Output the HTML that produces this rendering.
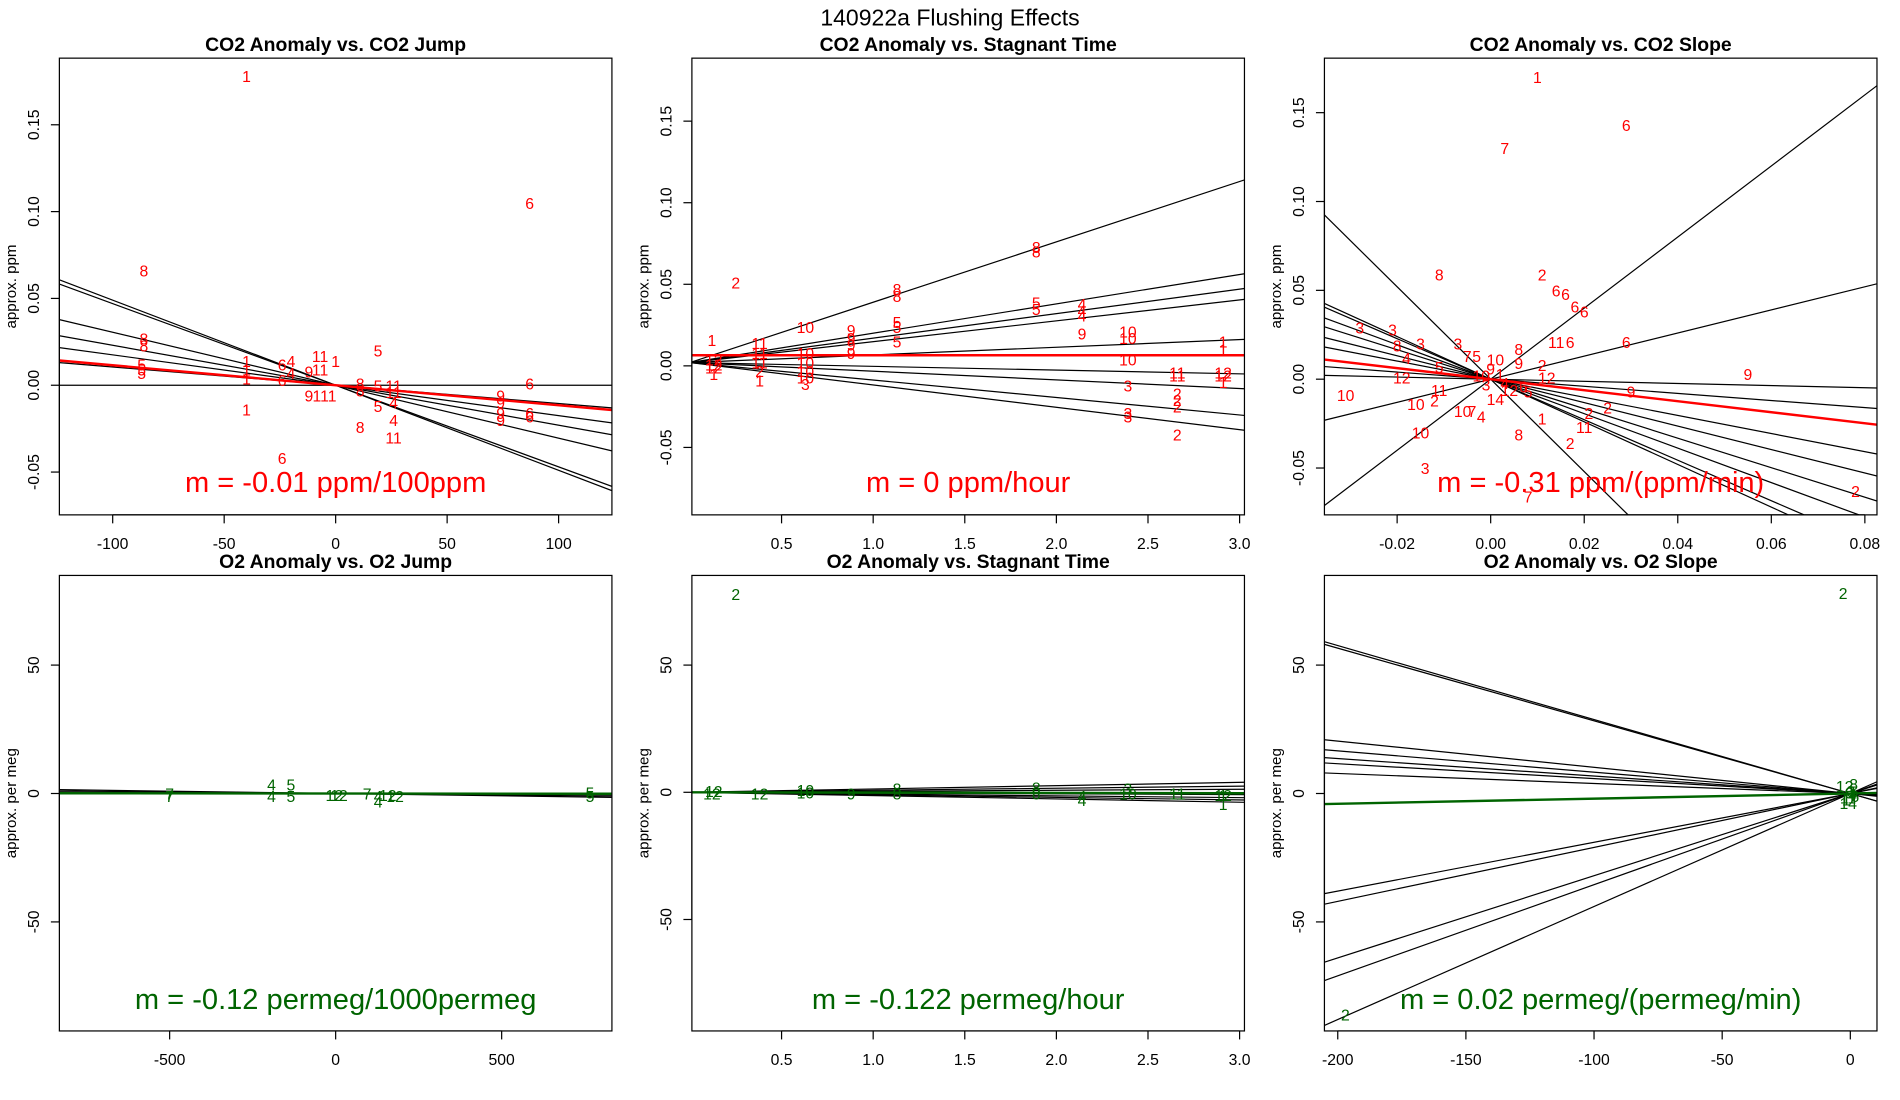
<!DOCTYPE html>
<html><head><meta charset="utf-8"><title>140922a Flushing Effects</title>
<style>html,body{margin:0;padding:0;background:#fff;width:1900px;height:1100px;overflow:hidden}svg{display:block}text{font-family:"Liberation Sans",sans-serif}</style>
</head><body>
<svg id="chart" xmlns="http://www.w3.org/2000/svg" width="1900" height="1100" viewBox="0 0 1568 908" preserveAspectRatio="none">
<rect x="0" y="0" width="1568" height="908" fill="#fff"/>
<text x="784" y="21" font-size="19" text-anchor="middle">140922a   Flushing Effects</text>
</svg>
<script>
// ---------- Panel 1: CO2 Anomaly vs CO2 Jump ----------
const p1Labels = ['1','6','8','8','8','5','5','5','1','1','1','6','6','4','4','9','11','11','1','5','8','8','5','5','11','11','4','4','11','9','111','9','9','9','9','6','6','6','8','1','6'];
const p1X = [-40,87,-86,-86,-86,-87,-87,-87,-40,-40,-40,-24,-24,-20,-20,-12,-7,-7,0,19,11,11,19,19,26,26,26,26,26,-12,-5,74,74,74,74,87,87,87,11,-40,-24];
const p1Y = [0.178,0.105,0.066,0.027,0.023,0.012,0.009,0.007,0.014,0.009,0.004,0.012,0.003,0.014,0.007,0.008,0.017,0.009,0.014,0.020,0.001,-0.003,0.000,-0.012,0.000,-0.004,-0.010,-0.020,-0.030,-0.006,-0.006,-0.006,-0.010,-0.016,-0.020,0.001,-0.016,-0.018,-0.024,-0.014,-0.042];
const p1Slopes = [-0.00049,-0.00047,-0.000305,-0.00023,-0.000175,-0.000105,0.0000];
const p1Red = -0.000115;
// ---------- Panel 2: CO2 Anomaly vs Stagnant Time ----------
const p2Labels = ['2','1','11','11','11','12','12','12','1','10','10','10','10','10','3','9','9','9','9','8','8','5','5','5','8','8','5','5','4','4','4','9','10','10','10','3','3','3','11','11','2','2','2','2','1','1','12','12','1','2','1'];
const p2X = [0.25,0.12,0.38,0.38,0.38,0.13,0.13,0.13,0.13,0.63,0.63,0.63,0.63,0.63,0.63,0.88,0.88,0.88,0.88,1.13,1.13,1.13,1.13,1.13,1.89,1.89,1.89,1.89,2.14,2.14,2.14,2.14,2.39,2.39,2.39,2.39,2.39,2.39,2.66,2.66,2.66,2.66,2.66,2.66,2.91,2.91,2.91,2.91,2.91,0.38,0.38];
const p2Y = [0.051,0.016,0.014,0.008,0.002,0.004,0.001,-0.001,-0.005,0.024,0.008,0.002,-0.003,-0.007,-0.011,0.022,0.017,0.013,0.008,0.047,0.043,0.027,0.024,0.015,0.073,0.070,0.039,0.035,0.038,0.034,0.031,0.020,0.021,0.017,0.004,-0.012,-0.029,-0.031,-0.004,-0.006,-0.017,-0.021,-0.025,-0.042,0.015,0.010,-0.004,-0.006,-0.010,-0.003,-0.009];
const p2Slopes = [0.037,0.018,0.015,0.0128,0.0047,-0.0023,-0.0053,-0.0107,-0.0137];
const p2Int = 0.002;
const p2Red = 0;
const p2RedInt = 0.0065;
// ---------- Panel 3: CO2 Anomaly vs CO2 Slope ----------
const p3Labels = ['1','6','7','8','2','6','6','6','6','11','6','6','9','3','3','3','3','8','4','5','10','12','10','10','2','11','10','7','4','8','3','2','11','2','2','1','9','7','2','8','10','5','7','9','1','12','4','6','2','5','14','10','9','3','12'];
const p3X = [0.010,0.029,0.003,-0.011,0.011,0.014,0.016,0.018,0.020,0.014,0.017,0.029,0.055,-0.028,-0.021,-0.015,-0.007,-0.020,-0.018,-0.011,-0.031,-0.019,-0.015,-0.016,-0.012,-0.011,-0.006,-0.004,-0.002,0.006,-0.014,0.017,0.020,0.025,0.021,0.011,0.030,0.008,0.078,0.006,0.001,-0.003,-0.005,0.000,0.002,0.004,0.003,0.007,0.011,0.008,0.001,-0.002,0.006,-0.001,0.012];
const p3Y = [0.170,0.143,0.130,0.059,0.059,0.050,0.048,0.041,0.038,0.021,0.021,0.021,0.003,0.029,0.028,0.020,0.020,0.019,0.012,0.007,-0.009,0.001,-0.030,-0.014,-0.012,-0.006,-0.018,-0.018,-0.021,-0.031,-0.050,-0.036,-0.027,-0.016,-0.019,-0.022,-0.007,-0.066,-0.063,0.017,0.011,0.013,0.013,0.006,0.003,-0.006,-0.002,-0.004,0.008,-0.007,-0.011,0.002,0.009,-0.003,0.001];
const p3Slopes = [2.0,0.65,-2.6,-1.2,-1.14,-0.97,-0.83,-0.66,-0.51,-0.2,-0.06];
const p3Red = -0.31;
// ---------- Panel 4: O2 Anomaly vs O2 Jump ----------
const p4Labels = ['7','7','4','4','5','5','12','12','7','4','4','12','12','5','5'];
const p4X = [-500,-500,-193,-193,-135,-135,-4,10,95,128,128,157,179,766,766];
const p4Y = [0,-1,3.5,-1,3.5,-1,-0.5,-0.5,0,-1,-3,-0.5,-1,0.5,-1];
const p4Slopes = [-0.0018,-0.0012,-0.0006,-0.0003];
const p4Green = -0.00012;
// ---------- Panel 5: O2 Anomaly vs Stagnant Time ----------
const p5Labels = ['2','12','12','12','10','10','9','8','8','8','8','4','4','3','10','11','12','1','1'];
const p5X = [0.25,0.12,0.13,0.38,0.63,0.63,0.88,1.13,1.13,1.89,1.89,2.14,2.14,2.39,2.39,2.66,2.91,2.91,2.91];
const p5Y = [78,-0.5,0.5,-0.5,0,1,-0.5,1.5,-0.5,2,-0.5,-1.5,-3,1.5,-0.5,-0.5,-1,-1,-4.5];
const p5Slopes = [1.3,0.8,0.4,-0.3,-0.7,-1.0,-1.3];
const p5Green = -0.122;
// ---------- Panel 6: O2 Anomaly vs O2 Slope ----------
const p6Labels = ['2','2','12','8','1','14','3','6','9','4','11','5'];
const p6X = [-2.8,-197,-2.2,1.3,-1.6,-0.8,0.2,1.8,-0.4,0.9,-0.9,1.4];
const p6Y = [78,-86,3,3.8,-2.3,-3.6,1,-1,0.5,-0.5,-1.5,0.8];
const p6Slopes = [-0.288,-0.283,-0.102,-0.083,-0.068,-0.058,-0.039,0.19,0.21,0.32,0.355,0.44];
const p6Green = 0.02;

const NS = 'http://www.w3.org/2000/svg';
const svg = document.getElementById('chart');
function mk(tag, attrs, parent) {
  const e = document.createElementNS(NS, tag);
  for (const k in attrs) e.setAttribute(k, attrs[k]);
  (parent || svg).appendChild(e);
  return e;
}

function panel(cfg) {
  const g = mk('g', {});
  
  
  const sx = v => cfg.px0 + (v - cfg.xa) * (cfg.px1 - cfg.px0) / (cfg.xb - cfg.xa);
  const sy = v => cfg.py0 + (v - cfg.ya) * (cfg.py1 - cfg.py0) / (cfg.yb - cfg.ya);
  const L = cfg.box[0], T = cfg.box[1], R = cfg.box[2], B = cfg.box[3];
  const cid = 'clip-' + cfg.name;
  const cp = mk('clipPath', { id: cid }, g);
  mk('rect', { x: L, y: T, width: R - L, height: B - T }, cp);
  const t = mk('text', { x: (L + R) / 2, y: T - 6, 'font-size': 16, 'font-weight': 'bold', 'text-anchor': 'middle' }, g);
  
  
  t.textContent = cfg.title;
  const yl = mk('text', { x: 0, y: 0, 'font-size': 12.5, 'text-anchor': 'middle', transform: `translate(${L - 36},${(T + B) / 2}) rotate(-90)` }, g);
  
  
  yl.textContent = cfg.ylab;
  const xt = mk('g', {}, g);
  
  
  const xs = cfg.xticks.map(sx);
  mk('line', { x1: xs[0], x2: xs[xs.length - 1], y1: B, y2: B, stroke: '#000', 'stroke-width': 1 }, xt);
  cfg.xticks.forEach((v, i) => {
    mk('line', { x1: xs[i], x2: xs[i], y1: B, y2: B + 7, stroke: '#000' }, xt);
    const tx = mk('text', { x: xs[i], y: B + 28, 'font-size': 13, 'text-anchor': 'middle' }, xt);
    
    
    tx.textContent = cfg.xtickLabels[i];
  });
  const yt = mk('g', {}, g);
  
  
  const ys = cfg.yticks.map(sy);
  mk('line', { x1: L, x2: L, y1: ys[0], y2: ys[ys.length - 1], stroke: '#000' }, yt);
  cfg.yticks.forEach((v, i) => {
    mk('line', { x1: L - 7, x2: L, y1: ys[i], y2: ys[i], stroke: '#000' }, yt);
    const ty = mk('text', { x: 0, y: 0, 'font-size': 13, 'text-anchor': 'middle', transform: `translate(${L - 17},${ys[i]}) rotate(-90)` }, yt);
    
    
    ty.textContent = cfg.ytickLabels[i];
  });
  // segment of y = b + m*x clipped to plot box, in pixel coords
  function seg(b, m) {
    const ax = L, bx2 = R;
    let p1 = [ax, 0], p2 = [bx2, 0];
    const inv = px => cfg.xa + (px - cfg.px0) * (cfg.xb - cfg.xa) / (cfg.px1 - cfg.px0);
    const fy = px => sy(b + m * inv(px));
    p1[1] = fy(ax); p2[1] = fy(bx2);
    const k = (p2[1] - p1[1]) / (p2[0] - p1[0]);
    const fix = p => {
      if (p[1] < T && k !== 0) { p[0] = p1[0] + (T - p1[1]) / k; p[1] = T; }
      else if (p[1] > B && k !== 0) { p[0] = p1[0] + (B - p1[1]) / k; p[1] = B; }
    };
    const q1 = p1.slice(), q2 = p2.slice();
    fix(q1); fix(q2);
    return { x1: q1[0], y1: q1[1], x2: q2[0], y2: q2[1] };
  }
  const lg = mk('g', { 'clip-path': `url(#${cid})` }, g);
  cfg.slopes.forEach(m => {
    const s = seg(cfg.int, m);
    const ln = mk('line', { x1: s.x1, y1: s.y1, x2: s.x2, y2: s.y2, stroke: '#000', 'stroke-width': 1 }, lg);
    
    
  });
  const s0 = seg(cfg.mainInt, cfg.main);
  const fl = mk('line', { x1: s0.x1, y1: s0.y1, x2: s0.x2, y2: s0.y2, stroke: cfg.color, 'stroke-width': 2 }, lg);
  
  
  const pg = mk('g', { 'clip-path': `url(#${cid})` }, g);
  cfg.labels.forEach((lab, i) => {
    const p = mk('text', { x: sx(cfg.xs[i]), y: sy(cfg.ys[i]) + 5, 'font-size': 13, fill: cfg.color, 'text-anchor': 'middle' }, pg);
    
    
    p.textContent = lab;
  });
  const st = mk('text', { x: (L + R) / 2, y: cfg.mY, 'font-size': 24, fill: cfg.color, 'text-anchor': 'middle' }, g);
  
  
  st.textContent = cfg.mText;
  const bx = mk('rect', { x: L, y: T, width: R - L, height: B - T, fill: 'none', stroke: '#000', 'stroke-width': 1 }, g);
  
  
}

const RED = '#ff0000', GREEN = '#006400';
panel({ name: 'co2-vs-jump-panel', title: 'CO2 Anomaly vs. CO2 Jump', ylab: 'approx. ppm', box: [49, 48, 505, 425],
  xa: -100, xb: 100, px0: 93, px1: 461, ya: 0, yb: 0.15, py0: 318, py1: 103,
  xticks: [-100, -50, 0, 50, 100], xtickLabels: ['-100', '-50', '0', '50', '100'],
  yticks: [-0.05, 0, 0.05, 0.10, 0.15], ytickLabels: ['-0.05', '0.00', '0.05', '0.10', '0.15'],
  slopes: p1Slopes, int: 0, main: p1Red, mainInt: 0, labels: p1Labels, xs: p1X, ys: p1Y, color: RED,
  mText: 'm = -0.01 ppm/100ppm', mY: 406 });
panel({ name: 'co2-vs-stagnant-panel', title: 'CO2 Anomaly vs. Stagnant Time', ylab: 'approx. ppm', box: [571, 48, 1027, 425],
  xa: 0.5, xb: 3.0, px0: 645, px1: 1023, ya: 0, yb: 0.15, py0: 302, py1: 100,
  xticks: [0.5, 1.0, 1.5, 2.0, 2.5, 3.0], xtickLabels: ['0.5', '1.0', '1.5', '2.0', '2.5', '3.0'],
  yticks: [-0.05, 0, 0.05, 0.10, 0.15], ytickLabels: ['-0.05', '0.00', '0.05', '0.10', '0.15'],
  slopes: p2Slopes, int: p2Int, main: p2Red, mainInt: p2RedInt, labels: p2Labels, xs: p2X, ys: p2Y, color: RED,
  mText: 'm = 0 ppm/hour', mY: 406 });
panel({ name: 'co2-vs-slope-panel', title: 'CO2 Anomaly vs. CO2 Slope', ylab: 'approx. ppm', box: [1093, 48, 1549, 425],
  xa: -0.02, xb: 0.08, px0: 1153, px1: 1539, ya: 0, yb: 0.15, py0: 313, py1: 93,
  xticks: [-0.02, 0, 0.02, 0.04, 0.06, 0.08], xtickLabels: ['-0.02', '0.00', '0.02', '0.04', '0.06', '0.08'],
  yticks: [-0.05, 0, 0.05, 0.10, 0.15], ytickLabels: ['-0.05', '0.00', '0.05', '0.10', '0.15'],
  slopes: p3Slopes, int: 0, main: p3Red, mainInt: 0, labels: p3Labels, xs: p3X, ys: p3Y, color: RED,
  mText: 'm = -0.31 ppm/(ppm/min)', mY: 406 });
panel({ name: 'o2-vs-jump-panel', title: 'O2 Anomaly vs. O2 Jump', ylab: 'approx. per meg', box: [49, 475, 505, 851],
  xa: -500, xb: 500, px0: 140, px1: 414, ya: 0, yb: 50, py0: 655, py1: 549,
  xticks: [-500, 0, 500], xtickLabels: ['-500', '0', '500'],
  yticks: [-50, 0, 50], ytickLabels: ['-50', '0', '50'],
  slopes: p4Slopes, int: 0, main: p4Green, mainInt: 0, labels: p4Labels, xs: p4X, ys: p4Y, color: GREEN,
  mText: 'm = -0.12 permeg/1000permeg', mY: 833 });
panel({ name: 'o2-vs-stagnant-panel', title: 'O2 Anomaly vs. Stagnant Time', ylab: 'approx. per meg', box: [571, 475, 1027, 851],
  xa: 0.5, xb: 3.0, px0: 645, px1: 1023, ya: 0, yb: 50, py0: 654, py1: 549,
  xticks: [0.5, 1.0, 1.5, 2.0, 2.5, 3.0], xtickLabels: ['0.5', '1.0', '1.5', '2.0', '2.5', '3.0'],
  yticks: [-50, 0, 50], ytickLabels: ['-50', '0', '50'],
  slopes: p5Slopes, int: 0, main: p5Green, mainInt: 0, labels: p5Labels, xs: p5X, ys: p5Y, color: GREEN,
  mText: 'm = -0.122 permeg/hour', mY: 833 });
panel({ name: 'o2-vs-slope-panel', title: 'O2 Anomaly vs. O2 Slope', ylab: 'approx. per meg', box: [1093, 475, 1549, 851],
  xa: -200, xb: 0, px0: 1104, px1: 1527, ya: 0, yb: 50, py0: 655, py1: 549,
  xticks: [-200, -150, -100, -50, 0], xtickLabels: ['-200', '-150', '-100', '-50', '0'],
  yticks: [-50, 0, 50], ytickLabels: ['-50', '0', '50'],
  slopes: p6Slopes, int: 0, main: p6Green, mainInt: 0, labels: p6Labels, xs: p6X, ys: p6Y, color: GREEN,
  mText: 'm = 0.02 permeg/(permeg/min)', mY: 833 });
</script>
</body></html>
